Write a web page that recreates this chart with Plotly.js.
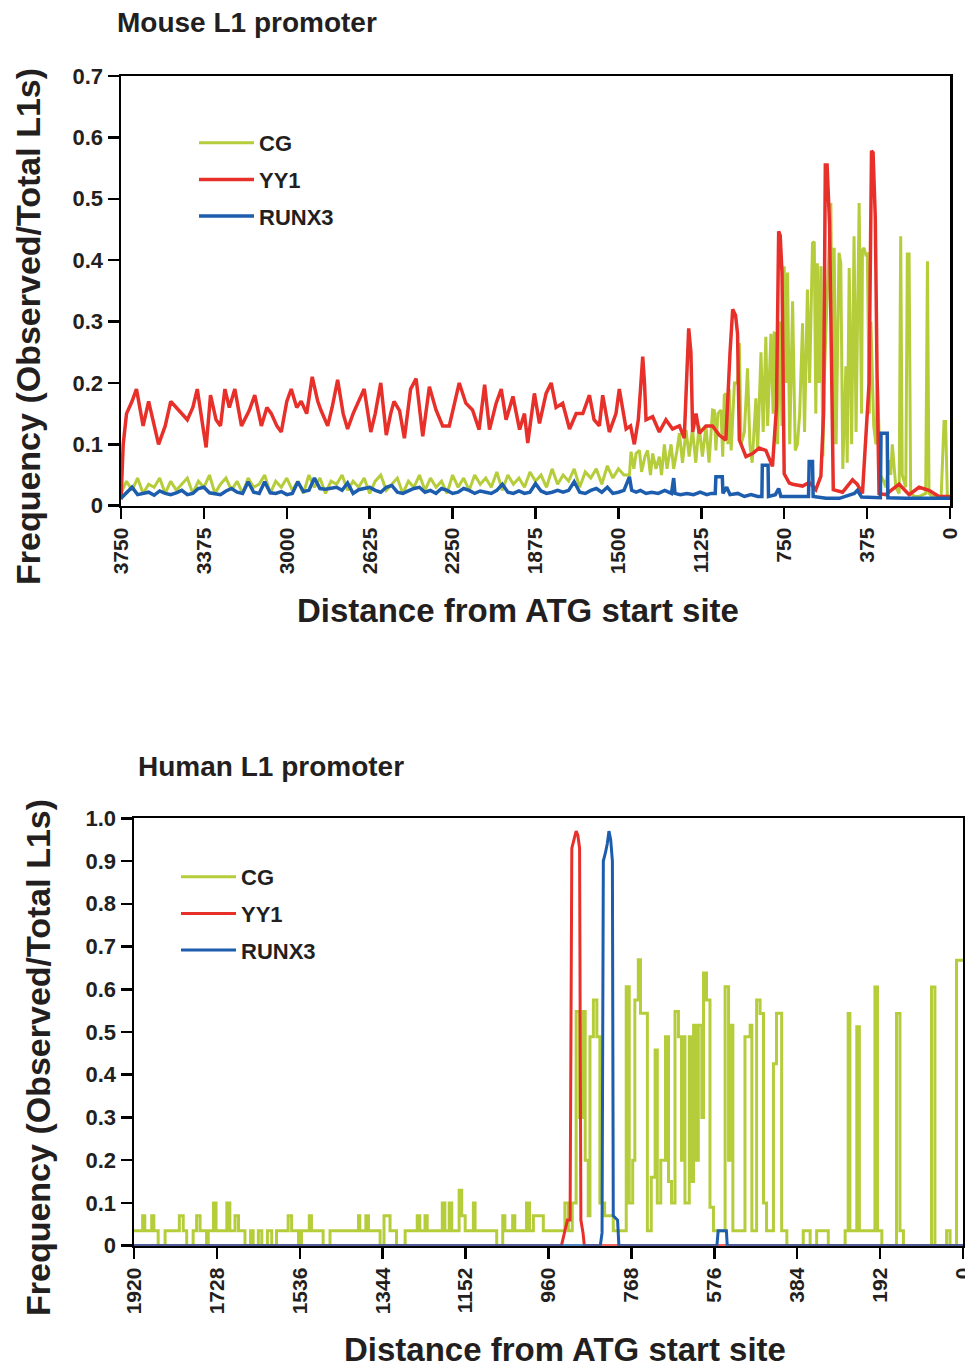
<!DOCTYPE html>
<html><head><meta charset="utf-8">
<script src="https://cdn.plot.ly/plotly-3.0.1.min.js"></script>
<style>html,body{margin:0;padding:0;background:#fff}#chart{width:965px;height:1368px}</style>
</head><body><div id="chart"></div>
<script>
// ---------- shared ----------
const seriesNames = ['CG', 'YY1', 'RUNX3'];
const seriesColors = ['#b6cd3b', '#e8302b', '#1d5dad'];

// ---------- Mouse L1 promoter ----------
const mouseXTicks = [3750, 3375, 3000, 2625, 2250, 1875, 1500, 1125, 750, 375, 0];
const mouseYTicks = [0, 0.1, 0.2, 0.3, 0.4, 0.5, 0.6, 0.7];
const mouseYTickText = ['0', '0.1', '0.2', '0.3', '0.4', '0.5', '0.6', '0.7'];

// CG, left part: values every 25 bp from 3750 down to 1475
const mouseGridStart = 3750, mouseGridStep = 25;
const mouseCGGrid = [
  0.02,0.04,0.025,0.045,0.02,0.035,0.03,0.045,0.02,0.04,0.025,0.035,0.045,0.02,0.04,0.03,0.05,0.02,0.035,0.045,0.025,0.04,0.02,0.045,0.03,0.035,0.05,0.02,0.04,0.03,0.045,
  0.025,0.04,0.02,0.05,0.03,0.045,0.02,0.04,0.035,0.05,0.025,0.04,0.03,0.045,0.02,0.04,0.05,0.025,0.035,0.045,0.02,0.04,0.03,0.05,0.025,0.045,0.03,0.04,0.02,0.05,
  0.03,0.045,0.025,0.05,0.035,0.045,0.03,0.055,0.025,0.05,0.035,0.045,0.03,0.055,0.04,0.05,0.03,0.06,0.035,0.05,0.04,0.06,0.03,0.055,0.045,0.06,0.035,0.065,0.045,0.06,
  0.05
];
// CG, right part: [distance, frequency]
const mouseCGSpikes = [
  [1450,0.05],[1443,0.088],[1430,0.06],[1420,0.085],[1405,0.09],[1395,0.055],[1380,0.08],[1368,0.09],[1355,0.05],[1345,0.085],
  [1330,0.06],[1315,0.08],[1305,0.05],[1292,0.10],[1280,0.06],[1262,0.10],[1250,0.06],[1235,0.09],[1224,0.118],[1210,0.07],
  [1194,0.123],[1180,0.08],[1165,0.125],[1150,0.07],[1135,0.13],[1120,0.08],[1104,0.13],[1090,0.07],[1074,0.156],[1066,0.155],
  [1059,0.09],[1050,0.15],[1036,0.156],[1028,0.08],[1021,0.18],[1014,0.183],[1005,0.10],[999,0.19],[990,0.09],[975,0.20],
  [961,0.20],[953,0.265],[945,0.10],[930,0.12],[916,0.224],[905,0.10],[895,0.07],[878,0.175],[870,0.09],[855,0.25],
  [845,0.12],[833,0.275],[825,0.13],[810,0.28],[800,0.15],[795,0.281],[788,0.28],[780,0.10],[770,0.30],[760,0.13],
  [750,0.39],[742,0.20],[735,0.38],[725,0.10],[712,0.333],[700,0.09],[690,0.10],[680,0.15],[667,0.297],[658,0.12],
  [645,0.352],[635,0.20],[622,0.428],[614,0.43],[607,0.15],[600,0.395],[592,0.20],[584,0.39],[575,0.08],[569,0.20],
  [560,0.30],[539,0.493],[530,0.10],[524,0.42],[515,0.10],[502,0.412],[494,0.395],[485,0.06],[471,0.227],[465,0.07],
  [456,0.387],[445,0.10],[434,0.439],[425,0.12],[411,0.493],[400,0.15],[396,0.417],[389,0.42],[381,0.409],[374,0.41],
  [365,0.15],[358,0.30],[345,0.13],[335,0.10],[328,0.20],[315,0.05],[300,0.04],[290,0.03],[275,0.074],[268,0.05],
  [261,0.10],[245,0.03],[230,0.02],[223,0.439],[216,0.05],[200,0.03],[193,0.41],[185,0.41],[178,0.02],[160,0.015],
  [140,0.015],[110,0.02],[102,0.398],[95,0.02],[80,0.015],[40,0.015],[27,0.137],[20,0.137],[12,0.015],[0,0.015]
];

// YY1: [distance, frequency]
const mouseYY1 = [
  [3750,0.01],[3740,0.10],[3725,0.15],[3700,0.17],[3680,0.19],[3650,0.13],[3625,0.17],[3600,0.13],[3580,0.10],[3550,0.13],
  [3525,0.17],[3500,0.16],[3475,0.15],[3450,0.14],[3425,0.16],[3405,0.19],[3380,0.13],[3365,0.095],[3345,0.18],[3320,0.14],
  [3300,0.13],[3280,0.19],[3260,0.16],[3235,0.19],[3205,0.13],[3170,0.155],[3145,0.18],[3115,0.13],[3090,0.16],[3070,0.15],
  [3045,0.13],[3025,0.12],[3000,0.17],[2980,0.19],[2955,0.16],[2935,0.17],[2910,0.15],[2885,0.21],[2860,0.17],[2845,0.155],
  [2815,0.13],[2795,0.16],[2770,0.205],[2745,0.15],[2725,0.125],[2700,0.15],[2675,0.17],[2650,0.19],[2620,0.12],[2600,0.15],
  [2575,0.20],[2550,0.115],[2530,0.15],[2515,0.17],[2490,0.155],[2468,0.11],[2440,0.19],[2415,0.207],[2385,0.113],[2355,0.194],
  [2325,0.156],[2295,0.13],[2265,0.13],[2220,0.20],[2190,0.167],[2160,0.156],[2130,0.124],[2105,0.197],[2083,0.124],[2053,0.167],
  [2030,0.19],[2008,0.14],[1977,0.178],[1947,0.124],[1925,0.15],[1910,0.102],[1880,0.183],[1857,0.134],[1827,0.183],[1804,0.20],
  [1782,0.16],[1752,0.167],[1721,0.125],[1691,0.15],[1661,0.15],[1631,0.18],[1610,0.14],[1586,0.13],[1571,0.18],[1541,0.12],
  [1511,0.15],[1496,0.19],[1465,0.125],[1445,0.13],[1428,0.10],[1410,0.14],[1398,0.20],[1390,0.243],[1382,0.20],[1375,0.14],
  [1345,0.145],[1315,0.12],[1285,0.14],[1255,0.125],[1224,0.13],[1202,0.11],[1192,0.20],[1182,0.289],[1172,0.25],[1164,0.12],
  [1149,0.15],[1134,0.118],[1104,0.13],[1074,0.13],[1044,0.115],[1014,0.107],[995,0.25],[983,0.32],[970,0.31],[961,0.28],
  [953,0.107],[923,0.08],[893,0.085],[863,0.094],[833,0.09],[803,0.064],[785,0.16],[775,0.447],[768,0.44],[760,0.38],
  [750,0.052],[727,0.037],[712,0.035],[667,0.032],[637,0.038],[607,0.026],[584,0.048],[572,0.15],[564,0.555],[556,0.555],
  [545,0.46],[535,0.20],[528,0.026],[486,0.022],[441,0.042],[420,0.035],[396,0.02],[366,0.20],[355,0.578],[348,0.575],
  [338,0.47],[330,0.216],[321,0.02],[291,0.018],[230,0.035],[185,0.018],[140,0.03],[95,0.025],[50,0.015],[0,0.015]
];

// RUNX3, left part: values every 25 bp from 3750 down to 1475
const mouseRUNX3Grid = [
  0.012,0.022,0.03,0.018,0.02,0.022,0.017,0.024,0.02,0.018,0.021,0.025,0.018,0.02,0.028,0.03,0.021,0.02,0.018,0.024,0.028,0.022,0.02,0.039,0.022,0.02,0.039,0.021,0.02,0.023,0.018,
  0.02,0.039,0.023,0.025,0.045,0.028,0.027,0.028,0.03,0.025,0.037,0.02,0.026,0.028,0.03,0.025,0.022,0.03,0.033,0.022,
  0.02,0.024,0.028,0.03,0.022,0.025,0.02,0.028,0.025,0.02,0.022,0.028,0.025,0.02,0.024,0.022,0.02,0.025,0.035,0.022,
  0.02,0.024,0.02,0.022,0.036,0.024,0.02,0.022,0.025,0.022,0.025,0.039,0.022,0.02,0.025,0.028,0.022,0.03,0.02,0.022,0.025
];
// RUNX3, right part: [distance, frequency]
const mouseRUNX3Spikes = [
  [1450,0.047],[1440,0.025],[1420,0.022],[1400,0.025],[1375,0.02],[1350,0.022],[1320,0.02],[1290,0.025],[1260,0.02],[1250,0.045],
  [1244,0.02],[1220,0.018],[1190,0.02],[1160,0.018],[1130,0.022],[1100,0.018],[1080,0.02],[1062,0.02],[1059,0.047],[1030,0.047],
  [1027,0.02],[1010,0.03],[995,0.018],[960,0.02],[930,0.015],[900,0.018],[870,0.015],[851,0.015],[849,0.066],[823,0.066],
  [821,0.015],[790,0.018],[775,0.028],[765,0.015],[700,0.015],[640,0.015],[637,0.072],[622,0.072],[619,0.015],[560,0.012],
  [500,0.012],[433,0.02],[419,0.025],[400,0.014],[315,0.013],[312,0.118],[284,0.118],[281,0.013],[200,0.012],[100,0.012],[0,0.012]
];

// ---------- Human L1 promoter ----------
const humanXTicks = [1920, 1728, 1536, 1344, 1152, 960, 768, 576, 384, 192, 0];
const humanYTicks = [0, 0.1, 0.2, 0.3, 0.4, 0.5, 0.6, 0.7, 0.8, 0.9, 1.0];
const humanYTickText = ['0', '0.1', '0.2', '0.3', '0.4', '0.5', '0.6', '0.7', '0.8', '0.9', '1.0'];

// CG, stepped: [distance where level starts, level]
const humanCG = [
  [1920,0.035],[1900,0.07],[1895,0.035],[1879,0.07],[1874,0.035],[1864,0],[1848,0.035],[1815,0.07],[1806,0.035],[1798,0],
  [1783,0.035],[1775,0.07],[1767,0.035],[1752,0],[1748,0.035],[1736,0.1],[1730,0.035],[1705,0.1],[1698,0.035],[1686,0.07],
  [1678,0.035],[1663,0],[1650,0.035],[1644,0],[1632,0.035],[1624,0],[1611,0.035],[1601,0],[1590,0.035],[1563,0.07],
  [1555,0.035],[1539,0],[1532,0.035],[1514,0.07],[1509,0.035],[1482,0],[1466,0.035],[1400,0.07],[1397,0.035],[1383,0.07],
  [1377,0.035],[1350,0],[1341,0.07],[1327,0.035],[1312,0],[1292,0.035],[1264,0.07],[1258,0.035],[1246,0.07],[1241,0.035],
  [1206,0.1],[1200,0.035],[1190,0.1],[1184,0.035],[1167,0.13],[1161,0.07],[1153,0.035],[1134,0.1],[1130,0.035],[1080,0],
  [1066,0.07],[1061,0.035],[1043,0.07],[1038,0.035],[1011,0.1],[1004,0.035],[995,0.07],[972,0.035],[922,0.1],[914,0.035],
  [905,0.1],[896,0.548],[888,0.3],[880,0.548],[875,0.2],[868,0.07],[864,0.489],[856,0.575],[848,0.489],[841,0.1],
  [830,0.07],[810,0.035],[780,0.606],[773,0.1],[765,0.2],[760,0.575],[752,0.669],[747,0.544],[739,0.544],[731,0.035],
  [722,0.16],[713,0.458],[708,0.1],[700,0.2],[689,0.489],[682,0.15],[675,0.1],[667,0.548],[659,0.489],[652,0.2],
  [648,0.489],[644,0.1],[634,0.489],[628,0.15],[624,0.516],[617,0.2],[613,0.516],[605,0.3],[601,0.638],[594,0.575],
  [586,0.09],[578,0.035],[551,0.606],[543,0.2],[540,0.516],[533,0.035],[505,0.489],[493,0.516],[489,0.035],[478,0.575],
  [470,0.543],[462,0.1],[455,0.035],[439,0.426],[432,0.544],[424,0.544],[420,0.035],[408,0],[370,0.035],[354,0],
  [339,0.035],[312,0],[273,0.035],[266,0.543],[262,0.035],[246,0.512],[240,0.035],[208,0.035],[204,0.605],[198,0.035],
  [188,0],[154,0.543],[146,0.035],[138,0],[73,0.605],[65,0],[38,0.035],[30,0],[15,0.668],[0,0.668]
];
const humanYY1 = [
  [1920,0],[930,0],[922,0.035],[916,0.06],[910,0.06],[906,0.93],[901,0.95],[896,0.97],[892,0.96],[888,0.93],
  [885,0.06],[880,0.03],[877,0],[0,0]
];
const humanRUNX3 = [
  [1920,0],[840,0],[836,0.03],[833,0.90],[828,0.92],[824,0.94],[820,0.97],[816,0.95],[812,0.90],[810,0.07],
  [800,0.06],[797,0],[570,0],[567,0.035],[548,0.035],[546,0],[0,0]
];

// ---------- build ----------
const W = 965, H = 1368;
const fx = p => p / W;
const fy = p => 1 - p / H;
const FONT = 'Liberation Sans, Arial, Helvetica, sans-serif';
const TXT = '#231f20';

function gridPairs(vals) { return vals.map((v, i) => [mouseGridStart - i * mouseGridStep, v]); }
function trace(pairs, k, xa, ya, leg, width, shape) {
  return {
    type: 'scatter', mode: 'lines', name: seriesNames[k],
    x: pairs.map(p => p[0]), y: pairs.map(p => p[1]),
    xaxis: xa, yaxis: ya, legend: leg, legendgroup: leg + k,
    line: { color: seriesColors[k], width: width, shape: shape || 'linear' },
    hoverinfo: 'x+y'
  };
}

const data = [
  trace(gridPairs(mouseCGGrid).concat(mouseCGSpikes), 0, 'x', 'y', 'legend', 3),
  trace(mouseYY1, 1, 'x', 'y', 'legend', 3.5),
  trace(gridPairs(mouseRUNX3Grid).concat(mouseRUNX3Spikes), 2, 'x', 'y', 'legend', 3.5),
  trace(humanCG, 0, 'x2', 'y2', 'legend2', 3, 'hv'),
  trace(humanYY1, 1, 'x2', 'y2', 'legend2', 3),
  trace(humanRUNX3, 2, 'x2', 'y2', 'legend2', 3)
];

function xAxis(dom, range, ticks, anchor) {
  return {
    domain: dom, range: range, anchor: anchor, tickvals: ticks, ticktext: ticks.map(String),
    tickangle: -90, ticks: 'outside', ticklen: 11, tickwidth: 2.5, tickcolor: '#000',
    showline: true, linecolor: '#000', linewidth: 2.5, mirror: true,
    showgrid: false, zeroline: false, automargin: false, ticklabeloverflow: 'allow',
    tickfont: { family: FONT, size: 21, color: TXT, weight: 'bold' }
  };
}
function yAxis(dom, range, ticks, text, anchor) {
  return {
    domain: dom, range: range, anchor: anchor, tickvals: ticks, ticktext: text,
    ticks: 'outside', ticklen: 11, tickwidth: 2.5, tickcolor: '#000',
    showline: true, linecolor: '#000', linewidth: 2.5, mirror: true,
    showgrid: false, zeroline: false, automargin: false,
    tickfont: { family: FONT, size: 22, color: TXT, weight: 'bold' }
  };
}
function ann(text, x, y, size, angle, xanchor) {
  return {
    text: text, xref: 'paper', yref: 'paper', x: fx(x), y: fy(y),
    xanchor: xanchor || 'center', yanchor: 'middle', showarrow: false, textangle: angle || 0,
    font: { family: FONT, size: size, color: TXT, weight: 'bold' }
  };
}
function legendBox(x, y) {
  return {
    x: fx(x), y: fy(y), xanchor: 'left', yanchor: 'top', bgcolor: 'rgba(0,0,0,0)',
    font: { family: FONT, size: 22, color: TXT, weight: 'bold' },
    itemwidth: 55, tracegroupgap: 5, traceorder: 'grouped'
  };
}

const layout = {
  width: W, height: H, margin: { l: 0, r: 0, t: 0, b: 0 },
  paper_bgcolor: '#fff', plot_bgcolor: '#fff', showlegend: true,
  xaxis: xAxis([fx(121), fx(950)], [3750, 0], mouseXTicks, 'y'),
  yaxis: yAxis([fy(505.7), fy(76)], [0, 0.7], mouseYTicks, mouseYTickText, 'x'),
  xaxis2: xAxis([fx(134), fx(963)], [1920, 0], humanXTicks, 'y2'),
  yaxis2: yAxis([fy(1245.7), fy(818.3)], [0, 1.0], humanYTicks, humanYTickText, 'x2'),
  legend: legendBox(194, 122),
  legend2: legendBox(176, 856),
  annotations: [
    ann('Mouse L1 promoter', 115, 22, 28, 0, 'left'),
    ann('Human L1 promoter', 136, 767, 28, 0, 'left'),
    ann('Distance from ATG start site', 518, 610, 33),
    ann('Distance from ATG start site', 565, 1349, 33),
    ann('Frequency (Observed/Total L1s)', 28, 327, 34, -90),
    ann('Frequency (Observed/Total L1s)', 38, 1058, 34, -90)
  ]
};

Plotly.newPlot('chart', data, layout, { staticPlot: true, displayModeBar: false });
</script>
</body></html>
